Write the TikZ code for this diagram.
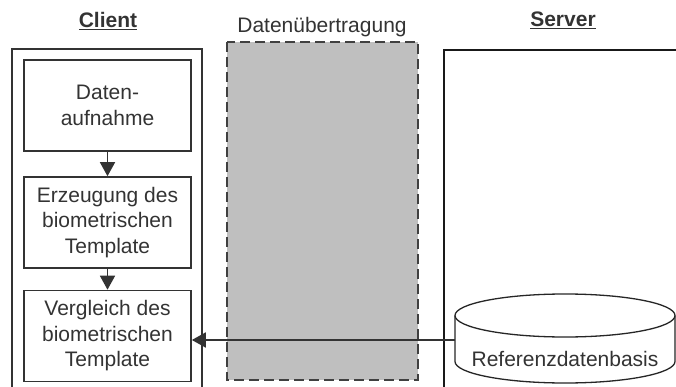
\documentclass[tikz,border=0pt]{standalone}
\usepackage{fontspec}
\setmainfont{Liberation Sans}
\usetikzlibrary{positioning}
\usetikzlibrary{arrows.meta}

\begin{document}
\begin{tikzpicture}[
  x=1pt, y=-1pt,
  every node/.style = {font=\fontsize{21}{25.5}\selectfont, text=black!80},
  stepbox/.style = {draw=black!80, line width=1.6pt, minimum width=167pt,
                    minimum height=91pt, align=center, inner sep=0pt},
  title/.style = {font=\fontsize{21}{25.5}\selectfont\bfseries},
  >={Triangle[length=14pt,width=15pt]},
  scale=1
]

  \clip (0,0) rectangle (676,387);

  % Spalten
  \draw[black!80, line width=1.8pt] (12,400) -- (12,49) -- (202,49) -- (202,400);
  \draw[black!75, line width=2.2pt, dash pattern=on 10pt off 5pt, fill=black!25]
    (227,42) rectangle (418,380);
  \draw[black!90, line width=1.3pt] (444,400) -- (444,50) -- (700,50);

  \node[title] (client) at (108,21) {\underline{Client}};
  \node (transfer) at (322,27) {Datenübertragung};
  \node[title] (server) at (563,20) {\underline{Server}};

  % Client
  \node[stepbox] (aufnahme) at (107.5,105.5) {Daten-\\aufnahme};
  \node[stepbox] (erzeugung) at (107.5,222.5) {Erzeugung des\\biometrischen\\Template};
  \node[stepbox] (vergleich) at (107.5,336) {Vergleich des\\biometrischen\\Template};

  % Server: Datenbank
  \draw[black!85, line width=1.3pt, fill=white]
    (455,315.5) -- (455,361.5) arc[start angle=180, end angle=360,
      x radius=110pt, y radius=21.5pt] -- (675,315.5);
  \draw[black!85, line width=1.3pt] (565,315.5) ellipse [x radius=110pt, y radius=21.5pt];
  \node (db) at (565,359) {Referenzdatenbasis};
  \coordinate (dbin) at (455,340);

  \draw[->, black!80, line width=1.6pt] (aufnahme) -- (erzeugung);
  \draw[->, black!80, line width=1.6pt] (erzeugung) -- (vergleich);
  \draw[->, black!80, line width=1.8pt] (dbin) -- (dbin -| vergleich.east);

\end{tikzpicture}
\end{document}
